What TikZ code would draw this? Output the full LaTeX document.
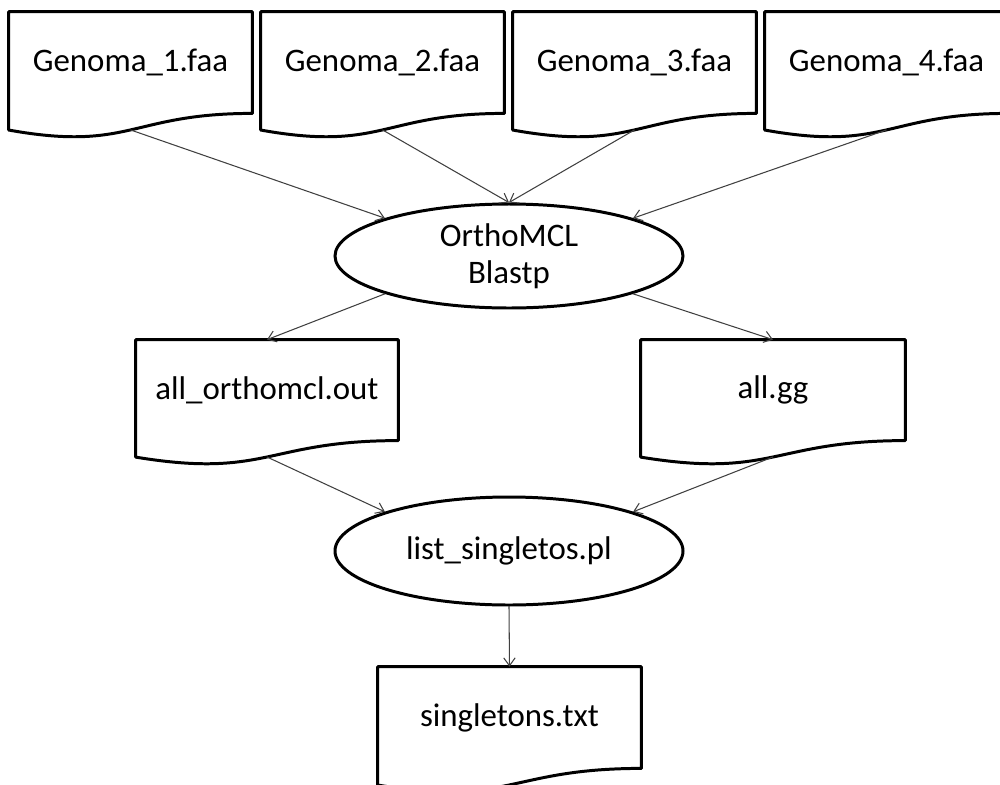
\documentclass[tikz,border=0pt]{standalone}
\usepackage{fontspec}
\setmainfont{Carlito}
\usetikzlibrary{shapes.geometric,arrows.meta,calc}

\tikzset{
  docbox/.style={inner sep=0pt, font=\fontsize{18.7}{21}\selectfont},
  docline/.style={line width=1.7pt, line join=round},
  proc/.style={ellipse, draw, line width=1.7pt, inner sep=0pt,
    minimum width=6.96cm, align=center, font=\fontsize{18.7}{21}\selectfont},
  flow/.style={draw=black!75, line width=0.6pt,
    -{Straight Barb[length=4.5pt,width=6.5pt]}}
}

% document symbol: name, left, top, width, height, text
\newcommand{\docsym}[6]{%
  \node[docbox, minimum width=#4cm, minimum height=0.802*#5cm] (#1)
    at (#2+#4/2, #3-0.401*#5) {#6};
  \draw[docline] (#1.north west) -- (#1.north east) -- (#1.south east)
    .. controls (#1.south) and ($(#1.south)+(0,-0.3055*#5)$)
    .. ($(#1.south west)+(0,-0.132*#5)$) -- cycle;
  \coordinate (#1-b) at ($(#1.south)+(0,-0.131*#5)$);
}

\begin{document}
\begin{tikzpicture}
  \clip (0,0) rectangle (20,-15.7);
  % input genomes
  \foreach \i/\x in {1/0.18, 2/5.22, 3/10.26, 4/15.30}
    {\docsym{g\i}{\x}{-0.24}{4.86}{2.52}{Genoma\_\i.faa}}
  \node[proc, minimum height=2.08cm] (ortho) at (10.18,-5.12) {OrthoMCL\\Blastp};
  \docsym{out}{2.72}{-6.80}{5.24}{2.50}{all\_orthomcl.out}
  \docsym{gg}{12.82}{-6.80}{5.28}{2.50}{all.gg}
  \node[proc, minimum height=2.16cm] (list) at (10.18,-11.02) {list\_singletos.pl};
  \docsym{single}{7.56}{-13.34}{5.26}{2.52}{singletons.txt}
  % connectors
  \draw[flow] (g1-b) -- (ortho.north west);
  \draw[flow] (g2-b) -- (ortho.north);
  \draw[flow] (g3-b) -- (ortho.north);
  \draw[flow] (g4-b) -- (ortho.north east);
  \draw[flow] (ortho.south west) -- (out.north);
  \draw[flow] (ortho.south east) -- (gg.north);
  \draw[flow] (out-b) -- (list.north west);
  \draw[flow] (gg-b) -- (list.north east);
  \draw[flow] (list.south) -- (single.north);
\end{tikzpicture}
\end{document}
